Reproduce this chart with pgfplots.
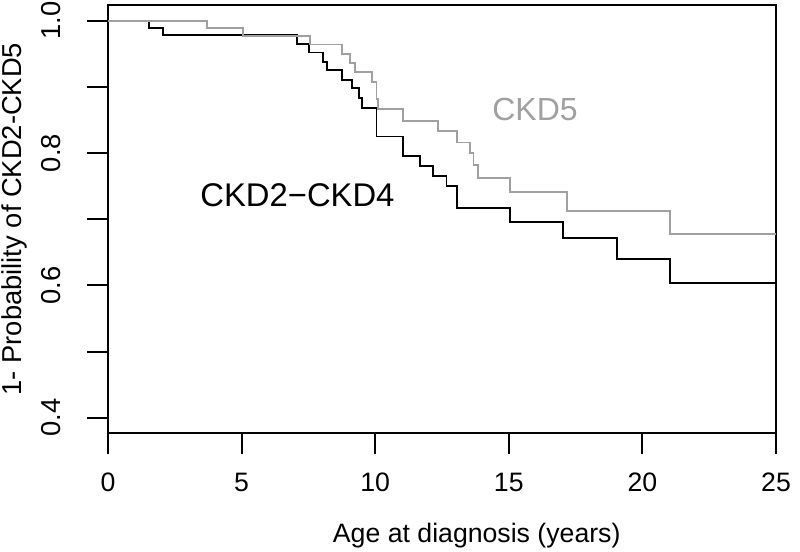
\documentclass[border=0pt]{standalone}
\usepackage{fontspec}
\setmainfont{Liberation Sans}
\usepackage{pgfplots}
\pgfplotsset{compat=1.18}
\definecolor{ckdgray}{HTML}{A0A0A0}
\begin{document}
\begin{tikzpicture}
\begin{axis}[
  scale only axis, width=501pt, height=321pt,
  at={(0,0)}, anchor=south west,
  xmin=0, xmax=25, ymin=0.3769, ymax=1.0237,
  axis line style={line width=1.6pt},
  every tick/.style={line width=1.5pt, black},
  tick align=outside, major tick length=15.75pt,
  xtick pos=bottom, ytick pos=left,
  xtick={0,5,10,15,20,25},
  xticklabels={0,5,10,15,20,25},
  ytick={0.4,0.5,0.6,0.7,0.8,0.9,1.0},
  yticklabels={0.4,,0.6,,0.8,,1.0},
  xticklabel style={font=\fontsize{20}{24}\selectfont, anchor=base, yshift=-28pt},
  yticklabel style={font=\fontsize{20.5}{24}\selectfont, xshift=-20pt, rotate=90, anchor=base},
  /pgf/number format/assume math mode=true,
  clip=false,
]
\addplot[black, line width=1.4pt, const plot] coordinates {
(0,1) (1.55,0.989) (2.07,0.979) (7.06,0.965) (7.53,0.952) (8.06,0.938) (8.21,0.926) (8.75,0.911) (9.12,0.898) (9.40,0.883) (9.50,0.868) (10.05,0.825) (11.05,0.796) (11.68,0.781) (12.17,0.765) (12.67,0.750) (13.05,0.717) (15.05,0.696) (17.04,0.672) (19.04,0.640) (21.04,0.604) (25,0.604)
};
\addplot[ckdgray, line width=1.4pt, const plot] coordinates {
(0,1) (3.69,0.989) (5.06,0.977) (7.56,0.964) (8.75,0.949) (9.06,0.936) (9.24,0.922) (9.87,0.907) (10.05,0.881) (10.11,0.866) (11.05,0.849) (12.36,0.833) (13.05,0.816) (13.55,0.800) (13.68,0.782) (13.86,0.762) (15.05,0.741) (17.17,0.713) (21.04,0.678) (25,0.678)
};
\node[font=\fontsize{24.6}{28}\selectfont, anchor=center] at (axis cs:7.09,0.736) {CKD2\textminus CKD4};
\node[font=\fontsize{24}{28}\selectfont, anchor=center, text=ckdgray] at (axis cs:15.98,0.866) {CKD5};
\node[font=\fontsize{20}{24}\selectfont, anchor=base] at ([yshift=-81.75pt]axis description cs:0.552,0) {Age at diagnosis (years)};
\node[font=\fontsize{20.5}{24}\selectfont, rotate=90, anchor=center] at ([xshift=-70pt]axis description cs:0,0.5) {1- Probability of CKD2-CKD5};
\end{axis}
\pgfresetboundingbox
\useasboundingbox (-81pt,-88.5pt) rectangle (519pt,324.75pt);
\end{tikzpicture}
\end{document}
